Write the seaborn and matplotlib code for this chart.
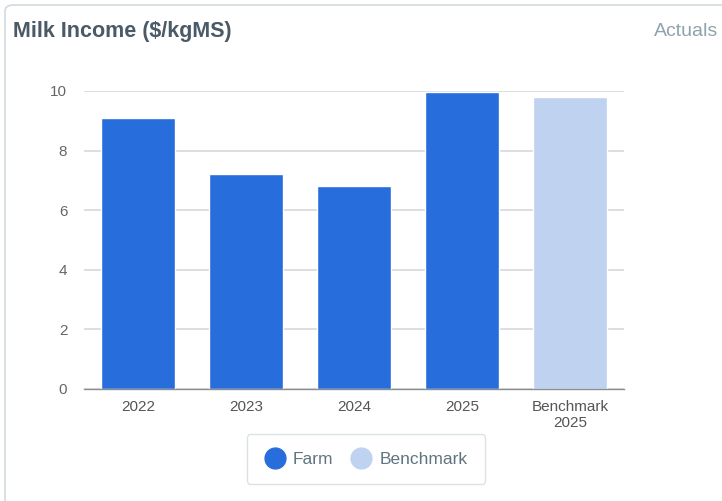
import matplotlib
matplotlib.use("Agg")
import matplotlib.pyplot as plt
import seaborn as sns
import pandas as pd
from matplotlib.patches import FancyBboxPatch
from matplotlib.lines import Line2D

categories = ["2022", "2023", "2024", "2025", "Benchmark\n2025"]
values = [9.1, 7.2, 6.8, 9.97, 9.8]
series = ["Farm", "Farm", "Farm", "Farm", "Benchmark"]
yticks = [0, 2, 4, 6, 8, 10]

farm_color = "#276ddb"
bench_color = "#bfd2f0"

df = pd.DataFrame({"category": categories, "value": values, "series": series})

sns.set_style("white")
plt.rcParams["font.family"] = ["Liberation Sans", "DejaVu Sans"]

W, H = 722, 501
fig = plt.figure(figsize=(W / 100, H / 100), dpi=100)

# card border
card = FancyBboxPatch((5 / W, 1 - 505 / H), 730 / W, 500 / H,
                      boxstyle="round,pad=0,rounding_size=0.012",
                      transform=fig.transFigure, fill=False,
                      edgecolor="#d3dbdf", linewidth=1.2)
fig.patches.append(card)

fig.text(13 / W, 1 - 32 / H, "Milk Income ($/kgMS)", fontsize=15.5, fontweight="bold",
         color="#4a5a66", va="center", ha="left")
fig.text(718 / W, 1 - 32 / H, "Actuals", fontsize=14, color="#8fa3ad",
         va="center", ha="right")

ax = fig.add_axes([84 / W, 1 - 389 / H, 540 / W, 298 / H])
sns.barplot(data=df, x="category", y="value", hue="series",
            palette={"Farm": farm_color, "Benchmark": bench_color},
            dodge=False, width=0.69, ax=ax, legend=False, saturation=1)

ax.set_xlim(-0.5, 4.5)
ax.set_ylim(0, 10)
ax.set_yticks(yticks)
ax.set_yticklabels([str(t) for t in yticks])
ax.set_xlabel("")
ax.set_ylabel("")
ax.yaxis.grid(True, color="#d5d8da", linewidth=1.2)
ax.set_axisbelow(True)
for s in ["top", "right", "left"]:
    ax.spines[s].set_visible(False)
ax.spines["bottom"].set_color("#8a8f93")
ax.spines["bottom"].set_linewidth(1.0)
ax.tick_params(axis="y", length=0, pad=12, labelsize=11, labelcolor="#666666")
ax.tick_params(axis="x", length=6, width=1, color="#8a8f93", pad=2,
               labelsize=11, labelcolor="#555555")
ax.set_xticks(range(len(categories)))
ax.set_xticklabels(categories, linespacing=1.2)

handles = [Line2D([], [], marker="o", linestyle="", markersize=15, markerfacecolor=farm_color,
                  markeredgecolor=farm_color, label="Farm"),
           Line2D([], [], marker="o", linestyle="", markersize=15, markerfacecolor=bench_color,
                  markeredgecolor=bench_color, label="Benchmark")]
leg = fig.legend(handles=handles, loc="center", bbox_to_anchor=(366 / W, 1 - 459 / H),
                 ncol=2, frameon=True, fontsize=12.5, handletextpad=0.45, columnspacing=1.0,
                 borderpad=1.0, handlelength=1.2, labelcolor="#607480", fancybox=True)
leg.get_frame().set_edgecolor("#d3dbdf")
leg.get_frame().set_linewidth(1.0)

fig.savefig("out.png", dpi=100)
